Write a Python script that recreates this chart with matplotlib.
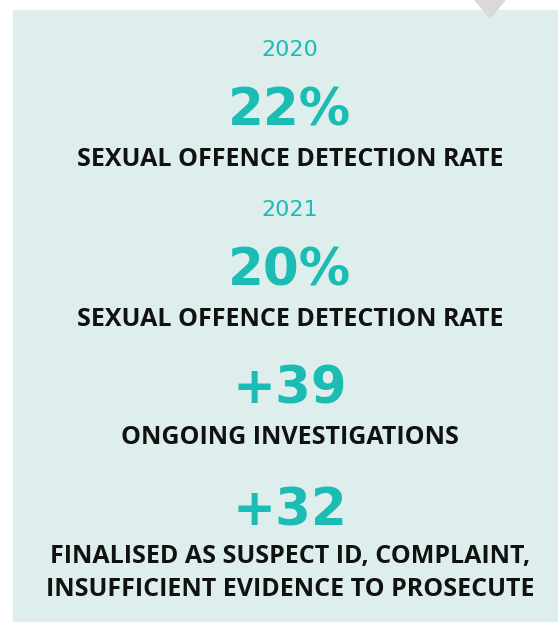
import matplotlib.pyplot as plt
from matplotlib.patches import Rectangle, Polygon

# infographic content
years = ["2020", "2021"]
rates = ["22%", "20%"]
rate_label = "SEXUAL OFFENCE DETECTION RATE"
counts = ["+39", "+32"]
count_labels = ["ONGOING INVESTIGATIONS",
                "FINALISED AS SUSPECT ID, COMPLAINT,\nINSUFFICIENT EVIDENCE TO PROSECUTE"]

teal = "#1bbcb4"
bg = "#ddeeed"

fig = plt.figure(figsize=(5.58, 6.22), dpi=100)
ax = fig.add_axes([0, 0, 1, 1])
ax.set_xlim(0, 558)
ax.set_ylim(622, 0)
ax.axis("off")

ax.add_patch(Rectangle((13, 10), 560, 620, color=bg, zorder=0))
ax.add_patch(Polygon([(475, 0), (505, 0), (490, 18)], color="#d9d9d9", zorder=1))

cx = 290
big = dict(ha="center", va="center", color=teal, fontsize=37, fontweight="bold", family="DejaVu Sans")
lab = dict(ha="center", va="center", color="#111111", fontsize=18, fontweight="bold", family="Open Sans")

y_year = [50, 210]
y_rate = [112, 272]
y_rlab = [160, 320]
for yr, r, a, b, c in zip(years, rates, y_year, y_rate, y_rlab):
    ax.text(cx, a, yr, ha="center", va="center", color=teal, fontsize=16, family="DejaVu Sans")
    ax.text(cx, b, r, **big)
    ax.text(cx, c, rate_label, **lab)

y_cnt = [389, 511]
y_clab = [437, 573]
for n, l, a, b in zip(counts, count_labels, y_cnt, y_clab):
    ax.text(cx, a, n, **big)
    ax.text(cx, b, l, linespacing=1.42, **lab)

fig.savefig("out.png", dpi=100)
